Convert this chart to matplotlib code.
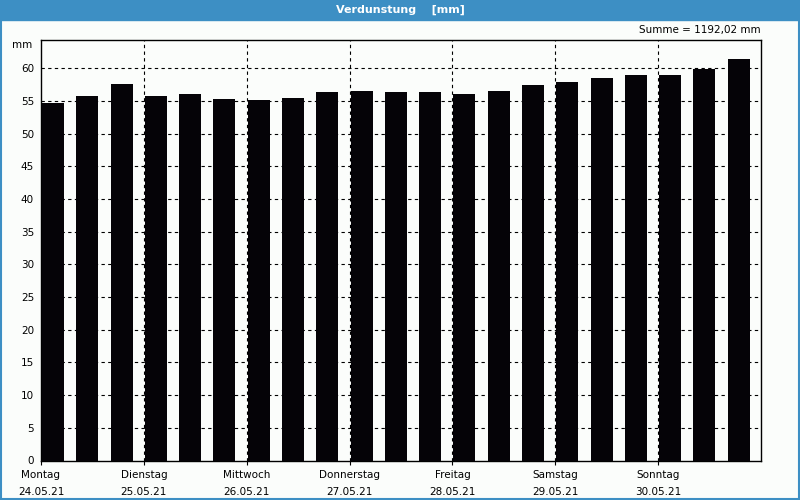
import numpy as np
import matplotlib
matplotlib.use('Agg')
from matplotlib import pyplot as plt
from matplotlib.patches import Rectangle
from matplotlib.lines import Line2D

# Verdunstung, 3 Werte pro Tag
values = [54.7, 55.7, 57.6, 55.7, 56.1, 55.3, 55.1, 55.4, 56.3, 56.5, 56.3,
          56.3, 56.0, 56.5, 57.4, 57.9, 58.5, 58.9, 58.9, 59.9, 61.4]
days = ['Montag', 'Dienstag', 'Mittwoch', 'Donnerstag', 'Freitag', 'Samstag', 'Sonntag']
dates = ['24.05.21', '25.05.21', '26.05.21', '27.05.21', '28.05.21', '29.05.21', '30.05.21']
yticks = list(range(0, 65, 5))
title = 'Verdunstung    [mm]'
summe = 'Summe = 1192,02 mm'

blue = '#3d8fc4'
bg = '#fbfdfb'

plt.rcParams['font.family'] = ['DejaVu Sans']
fig = plt.figure(figsize=(8, 5), dpi=100, facecolor=bg)

# title bar and border
fig.patches.append(Rectangle((0, 0.96), 1, 0.04, transform=fig.transFigure, color=blue, zorder=0))
fig.text(0.5, 0.98, title, color='white', ha='center', va='center', fontsize=8, fontweight='bold')
for xs, ys in [([0.001, 0.001], [0, 1]), ([0.999, 0.999], [0, 1]), ([0, 1], [0.002, 0.002])]:
    fig.add_artist(Line2D(xs, ys, transform=fig.transFigure, color=blue, lw=1.5))

ax = fig.add_axes([0.05125, 0.079, 0.9, 0.841])
ax.set_facecolor(bg)
x = np.arange(len(values))
ax.bar(x + 0.03, values, width=0.64, align='edge', color='#050307', zorder=3)

ax.set_xlim(0, len(values))
ax.set_ylim(0, 64.3)
ax.set_yticks(yticks)
ax.set_yticklabels([str(t) for t in yticks], fontsize=7.5)
ax.set_xticks(np.arange(0, len(values), 3))
ax.set_xticklabels([d + '\n' + dt for d, dt in zip(days, dates)], fontsize=7.5, linespacing=1.8)
ax.tick_params(axis='y', length=0, pad=5)
ax.tick_params(axis='x', length=3, width=0.8, pad=4)

for t in yticks[1:]:
    ax.axhline(t, color='black', ls=(0, (3, 3)), lw=0.8, zorder=1)
for v in range(3, len(values), 3):
    ax.axvline(v, color='black', ls=(0, (3, 3)), lw=0.8, zorder=4)

for s in ax.spines.values():
    s.set_linewidth(1.0)

ax.text(-0.012, 1.0, 'mm', transform=ax.transAxes, ha='right', va='top', fontsize=7.5)
ax.text(1.0, 1.012, summe, transform=ax.transAxes, ha='right', va='bottom', fontsize=7.5)

fig.savefig('out.png', dpi=100, facecolor=bg)
